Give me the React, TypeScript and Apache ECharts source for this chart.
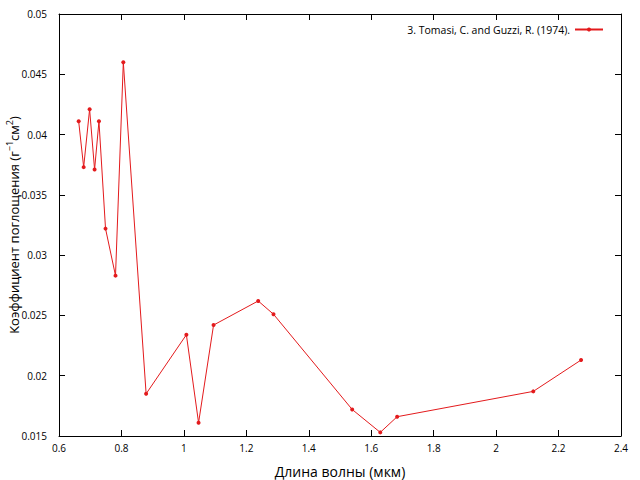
import React, { useEffect, useRef } from "react";
import * as echarts from "echarts";

const wavelength = [0.663, 0.679, 0.698, 0.714, 0.728, 0.749, 0.781, 0.806, 0.879, 1.008, 1.047, 1.095, 1.238, 1.287, 1.539, 1.629, 1.683, 2.119, 2.272];
const absorption = [0.0411, 0.0373, 0.0421, 0.0371, 0.0411, 0.0322, 0.0283, 0.046, 0.0185, 0.0234, 0.0161, 0.0242, 0.0262, 0.0251, 0.0172, 0.0153, 0.0166, 0.0187, 0.0213];
const seriesName = "3. Tomasi, C. and Guzzi, R. (1974).";
const xTitle = "Длина волны (мкм)";

const FONT = "Open Sans";
const RED = "#e31a1c";

export default function App() {
  const ref = useRef<HTMLDivElement>(null);
  useEffect(() => {
    if (!ref.current) return;
    const chart = echarts.init(ref.current, undefined, { renderer: "svg" });
    const fmt = (d: number) => (v: number) => String(Number(v.toFixed(d)));
    const axisLine = { show: true, lineStyle: { color: "#000", width: 1 } };
    const tick = { show: true, inside: true, length: 6, lineStyle: { color: "#000", width: 1 } };
    chart.setOption({
      animation: false,
      backgroundColor: "#fff",
      textStyle: { fontFamily: FONT },
      grid: { left: 59, right: 19, top: 14, bottom: 44, containLabel: false, outerBoundsMode: "none" },
      legend: {
        show: true,
        top: 19,
        right: 31,
        align: "right",
        itemWidth: 28,
        itemHeight: 5,
        itemGap: 8,
        textStyle: { fontFamily: FONT, fontSize: 10.5, color: "#000" },
        data: [seriesName],
      },
      xAxis: [
        {
          type: "value",
          min: 0.6,
          max: 2.4,
          interval: 0.2,
          name: xTitle,
          nameLocation: "middle",
          nameGap: 28,
          nameTextStyle: { fontFamily: FONT, fontSize: 14, color: "#000" },
          axisLine,
          axisTick: tick,
          splitLine: { show: false },
          axisLabel: { formatter: fmt(2), fontFamily: FONT, fontSize: 10, color: "#000", margin: 7 },
        },
        {
          type: "value",
          position: "top",
          min: 0.6,
          max: 2.4,
          interval: 0.2,
          axisLine,
          axisTick: tick,
          splitLine: { show: false },
          axisLabel: { show: false },
        },
      ],
      yAxis: [
        {
          type: "value",
          min: 0.015,
          max: 0.05,
          interval: 0.005,
          name: "{a|Коэффициент поглощения (г}{s|−1}{a|см}{s|2}{a|)}",
          nameLocation: "middle",
          nameGap: 37,
          nameMoveOverlap: false,
          nameTextStyle: {
            fontFamily: FONT,
            fontSize: 13,
            color: "#000",
            rich: {
              a: { fontFamily: FONT, fontSize: 13, color: "#000", lineHeight: 17, verticalAlign: "middle" },
              s: { fontFamily: FONT, fontSize: 9, color: "#000", lineHeight: 9, verticalAlign: "top" },
            },
          },
          axisLine,
          axisTick: tick,
          splitLine: { show: false },
          axisLabel: { formatter: fmt(3), fontFamily: FONT, fontSize: 10, color: "#000", margin: 12 },
        },
        {
          type: "value",
          position: "right",
          min: 0.015,
          max: 0.05,
          interval: 0.005,
          axisLine,
          axisTick: tick,
          splitLine: { show: false },
          axisLabel: { show: false },
        },
      ],
      series: [
        {
          name: seriesName,
          type: "line",
          xAxisIndex: 0,
          yAxisIndex: 0,
          data: wavelength.map((x, i) => [x, absorption[i]]),
          symbol: "circle",
          symbolSize: 4,
          showSymbol: true,
          lineStyle: { color: RED, width: 1 },
          itemStyle: { color: RED },
        },
      ],
    });
    return () => chart.dispose();
  }, []);
  return <div ref={ref} style={{ position: "absolute", left: 0, top: 0, width: 640, height: 480 }} />;
}
